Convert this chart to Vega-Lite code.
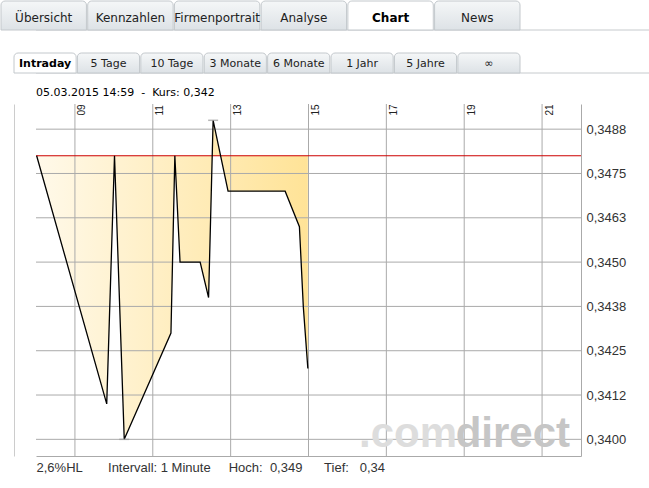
{
  "$schema": "https://vega.github.io/schema/vega-lite/v6.json",
  "background": "white",
  "padding": 0,
  "spacing": 12,
  "config": {"view": {"stroke": null}, "title": {"fontWeight": "normal"}},
  "datasets": {
    "tabs": [
      {"tab": "Übersicht", "active": false},
      {"tab": "Kennzahlen", "active": false},
      {"tab": "Firmenportrait", "active": false},
      {"tab": "Analyse", "active": false},
      {"tab": "Chart", "active": true},
      {"tab": "News", "active": false}
    ],
    "subtabs": [
      {"tab": "Intraday", "active": true},
      {"tab": "5 Tage", "active": false},
      {"tab": "10 Tage", "active": false},
      {"tab": "3 Monate", "active": false},
      {"tab": "6 Monate", "active": false},
      {"tab": "1 Jahr", "active": false},
      {"tab": "5 Jahre", "active": false},
      {"tab": "∞", "active": false}
    ],
    "price": [
      {"t": "2015-03-05T08:01:00Z", "p": 0.348},
      {"t": "2015-03-05T09:49:00Z", "p": 0.341},
      {"t": "2015-03-05T10:01:00Z", "p": 0.348},
      {"t": "2015-03-05T10:16:00Z", "p": 0.340},
      {"t": "2015-03-05T11:28:00Z", "p": 0.343},
      {"t": "2015-03-05T11:34:00Z", "p": 0.348},
      {"t": "2015-03-05T11:42:00Z", "p": 0.345},
      {"t": "2015-03-05T12:13:00Z", "p": 0.345},
      {"t": "2015-03-05T12:26:00Z", "p": 0.344},
      {"t": "2015-03-05T12:33:00Z", "p": 0.349},
      {"t": "2015-03-05T12:56:00Z", "p": 0.347},
      {"t": "2015-03-05T14:24:00Z", "p": 0.347},
      {"t": "2015-03-05T14:46:00Z", "p": 0.346},
      {"t": "2015-03-05T14:52:00Z", "p": 0.34374},
      {"t": "2015-03-05T14:59:00Z", "p": 0.342}
    ],
    "levels": [
      {"p": 0.34}, {"p": 0.34125}, {"p": 0.3425}, {"p": 0.34375},
      {"p": 0.345}, {"p": 0.34625}, {"p": 0.3475}, {"p": 0.34875}
    ],
    "hours": [
      {"t": "2015-03-05T09:00:00Z"}, {"t": "2015-03-05T11:00:00Z"},
      {"t": "2015-03-05T13:00:00Z"}, {"t": "2015-03-05T15:00:00Z"},
      {"t": "2015-03-05T17:00:00Z"}, {"t": "2015-03-05T19:00:00Z"},
      {"t": "2015-03-05T21:00:00Z"}
    ],
    "extremes": [
      {"t": "2015-03-05T10:16:00Z", "p": 0.340},
      {"t": "2015-03-05T12:33:00Z", "p": 0.349}
    ],
    "brand": [{"part": ".com"}, {"part": "direct"}],
    "one": [{"ref": "Vortag"}]
  },
  "vconcat": [
    {
      "width": 614,
      "height": 29,
      "data": {"name": "tabs"},
      "layer": [
        {
          "data": {"name": "one"},
          "mark": {"type": "rule", "color": "#c6cacd"},
          "encoding": {"y": {"value": "height"}}
        },
        {
          "transform": [{"filter": "!datum.active"}],
          "mark": {"type": "bar", "fill": {"gradient": "linear", "x1": 0, "y1": 0, "x2": 0, "y2": 1, "stops": [{"offset": 0, "color": "#f5f7f8"}, {"offset": 1, "color": "#dde2e6"}]}, "stroke": "#c3c8cc", "strokeWidth": 1, "cornerRadiusTopLeft": 4, "cornerRadiusTopRight": 4},
          "encoding": {"x": {"field": "tab", "type": "nominal", "scale": {"domain": ["Übersicht", "Kennzahlen", "Firmenportrait", "Analyse", "Chart", "News"], "range": [-35, 484], "paddingInner": 0.015, "paddingOuter": 0}, "axis": null}}
        },
        {
          "transform": [{"filter": "datum.active"}],
          "mark": {"type": "bar", "fill": "white", "stroke": "#c3c8cc", "strokeWidth": 1, "cornerRadiusTopLeft": 4, "cornerRadiusTopRight": 4},
          "encoding": {"x": {"field": "tab", "type": "nominal", "scale": {"domain": ["Übersicht", "Kennzahlen", "Firmenportrait", "Analyse", "Chart", "News"], "range": [-35, 484], "paddingInner": 0.015, "paddingOuter": 0}, "axis": null}}
        },
        {
          "transform": [{"filter": "!datum.active"}],
          "mark": {"type": "text", "font": "DejaVu Sans", "fontSize": 12, "color": "#222222", "dy": 2},
          "encoding": {"x": {"field": "tab", "type": "nominal", "scale": {"domain": ["Übersicht", "Kennzahlen", "Firmenportrait", "Analyse", "Chart", "News"], "range": [-35, 484], "paddingInner": 0.015, "paddingOuter": 0}, "axis": null}, "text": {"field": "tab"}}
        },
        {
          "transform": [{"filter": "datum.active"}],
          "mark": {"type": "text", "font": "DejaVu Sans", "fontSize": 12, "fontWeight": "bold", "color": "#000000", "dy": 2},
          "encoding": {"x": {"field": "tab", "type": "nominal", "scale": {"domain": ["Übersicht", "Kennzahlen", "Firmenportrait", "Analyse", "Chart", "News"], "range": [-35, 484], "paddingInner": 0.015, "paddingOuter": 0}, "axis": null}, "text": {"field": "tab"}}
        }
      ]
    },
    {
      "width": 614,
      "height": 20,
      "data": {"name": "subtabs"},
      "layer": [
        {
          "data": {"name": "one"},
          "mark": {"type": "rule", "color": "#c6cacd"},
          "encoding": {"y": {"value": "height"}}
        },
        {
          "transform": [{"filter": "!datum.active"}],
          "mark": {"type": "bar", "fill": {"gradient": "linear", "x1": 0, "y1": 0, "x2": 0, "y2": 1, "stops": [{"offset": 0, "color": "#f5f7f8"}, {"offset": 1, "color": "#dde2e6"}]}, "stroke": "#c3c8cc", "strokeWidth": 1, "cornerRadiusTopLeft": 4, "cornerRadiusTopRight": 4},
          "encoding": {"x": {"field": "tab", "type": "nominal", "scale": {"domain": ["Intraday", "5 Tage", "10 Tage", "3 Monate", "6 Monate", "1 Jahr", "5 Jahre", "∞"], "range": [-22, 484], "paddingInner": 0.02, "paddingOuter": 0}, "axis": {"orient": "top", "labels": false, "ticks": false, "domain": false, "grid": false, "title": null, "minExtent": 10, "maxExtent": 10}}}
        },
        {
          "transform": [{"filter": "datum.active"}],
          "mark": {"type": "bar", "fill": "white", "stroke": "#c3c8cc", "strokeWidth": 1, "cornerRadiusTopLeft": 4, "cornerRadiusTopRight": 4},
          "encoding": {"x": {"field": "tab", "type": "nominal", "scale": {"domain": ["Intraday", "5 Tage", "10 Tage", "3 Monate", "6 Monate", "1 Jahr", "5 Jahre", "∞"], "range": [-22, 484], "paddingInner": 0.02, "paddingOuter": 0}, "axis": {"orient": "top", "labels": false, "ticks": false, "domain": false, "grid": false, "title": null, "minExtent": 10, "maxExtent": 10}}}
        },
        {
          "transform": [{"filter": "!datum.active"}],
          "mark": {"type": "text", "font": "DejaVu Sans", "fontSize": 11, "color": "#222222", "dy": 1},
          "encoding": {"x": {"field": "tab", "type": "nominal", "scale": {"domain": ["Intraday", "5 Tage", "10 Tage", "3 Monate", "6 Monate", "1 Jahr", "5 Jahre", "∞"], "range": [-22, 484], "paddingInner": 0.02, "paddingOuter": 0}, "axis": {"orient": "top", "labels": false, "ticks": false, "domain": false, "grid": false, "title": null, "minExtent": 10, "maxExtent": 10}}, "text": {"field": "tab"}}
        },
        {
          "transform": [{"filter": "datum.active"}],
          "mark": {"type": "text", "font": "DejaVu Sans", "fontSize": 11, "fontWeight": "bold", "color": "#000000", "dy": 1},
          "encoding": {"x": {"field": "tab", "type": "nominal", "scale": {"domain": ["Intraday", "5 Tage", "10 Tage", "3 Monate", "6 Monate", "1 Jahr", "5 Jahre", "∞"], "range": [-22, 484], "paddingInner": 0.02, "paddingOuter": 0}, "axis": {"orient": "top", "labels": false, "ticks": false, "domain": false, "grid": false, "title": null, "minExtent": 10, "maxExtent": 10}}, "text": {"field": "tab"}}
        }
      ]
    },
    {
      "width": 545,
      "height": 352,
      "title": {"text": "05.03.2015 14:59\u00a0\u00a0-\u00a0\u00a0Kurs: 0,342", "anchor": "start", "frame": "group", "font": "DejaVu Sans", "fontSize": 11, "fontWeight": "normal", "color": "#000000", "offset": 6},
      "resolve": {"axis": {"x": "independent", "y": "independent"}},
      "layer": [
        {
          "data": {"name": "price"},
          "mark": {"type": "area", "fill": {"gradient": "linear", "x1": 0, "y1": 0, "x2": 1, "y2": 0, "stops": [{"offset": 0, "color": "#fff9ea"}, {"offset": 1, "color": "#ffe397"}]}},
          "encoding": {
            "x": {"field": "t", "type": "temporal", "scale": {"type": "utc", "domain": [{"year": 2015, "month": 3, "date": 5, "hours": 8, "utc": true}, {"year": 2015, "month": 3, "date": 5, "hours": 22, "utc": true}]},
              "axis": {"orient": "top", "values": [
                {"year": 2015, "month": 3, "date": 5, "hours": 9, "utc": true},
                {"year": 2015, "month": 3, "date": 5, "hours": 11, "utc": true},
                {"year": 2015, "month": 3, "date": 5, "hours": 13, "utc": true},
                {"year": 2015, "month": 3, "date": 5, "hours": 15, "utc": true},
                {"year": 2015, "month": 3, "date": 5, "hours": 17, "utc": true},
                {"year": 2015, "month": 3, "date": 5, "hours": 19, "utc": true},
                {"year": 2015, "month": 3, "date": 5, "hours": 21, "utc": true}],
                "labelExpr": "utcFormat(datum.value, '%H')", "labelAngle": -90, "labelAlign": "left", "labelBaseline": "top", "labelPadding": -11, "labelOffset": 2, "tickSize": 0, "ticks": false, "domain": false, "grid": false, "title": null, "labelFont": "Liberation Sans", "labelFontSize": 10, "labelColor": "#222222", "labelFlush": false, "labelOverlap": false, "labelBound": false}},
            "y": {"field": "p", "type": "quantitative", "scale": {"domain": [0.33953, 0.34946], "zero": false, "nice": false},
              "axis": {"orient": "right", "values": [0.34, 0.34125, 0.3425, 0.34375, 0.345, 0.34625, 0.3475, 0.34875], "format": ".4f", "labelExpr": "replace(datum.label, '.', ',')", "ticks": false, "grid": false, "domain": true, "domainColor": "#aaaaaa", "domainWidth": 1, "labelPadding": 5, "labelFont": "Liberation Sans", "labelFontSize": 13, "labelColor": "#333333", "labelFlush": false, "labelOverlap": false, "labelBound": false, "title": null}},
            "y2": {"datum": 0.348}
          }
        },
        {
          "data": {"name": "levels"},
          "mark": {"type": "rule", "color": "#aaaaaa", "strokeWidth": 1},
          "encoding": {"y": {"field": "p", "type": "quantitative", "scale": {"domain": [0.33953, 0.34946], "zero": false, "nice": false}, "axis": null}}
        },
        {
          "data": {"name": "hours"},
          "mark": {"type": "rule", "color": "#aaaaaa", "strokeWidth": 1},
          "encoding": {"x": {"field": "t", "type": "temporal", "scale": {"type": "utc", "domain": [{"year": 2015, "month": 3, "date": 5, "hours": 8, "utc": true}, {"year": 2015, "month": 3, "date": 5, "hours": 22, "utc": true}]}, "axis": null}}
        },
        {
          "data": {"name": "brand"},
          "transform": [{"filter": "datum.part === 'direct'"}],
          "mark": {"type": "text", "align": "right", "baseline": "alphabetic", "dx": -11, "dy": -9, "font": "Liberation Sans", "fontWeight": "bold", "fontSize": 42, "color": "#c6c6c6"},
          "encoding": {"x": {"value": "width"}, "y": {"value": "height"}, "text": {"field": "part"}}
        },
        {
          "data": {"name": "brand"},
          "transform": [{"filter": "datum.part === '.com'"}],
          "mark": {"type": "text", "align": "right", "baseline": "alphabetic", "dx": -124, "dy": -9, "font": "Liberation Sans", "fontWeight": "bold", "fontSize": 42, "color": "#dddddd"},
          "encoding": {"x": {"value": "width"}, "y": {"value": "height"}, "text": {"field": "part"}}
        },
        {
          "data": {"name": "one"},
          "mark": {"type": "rule", "color": "#cc0000", "strokeWidth": 1},
          "encoding": {"y": {"datum": 0.348, "type": "quantitative", "scale": {"domain": [0.33953, 0.34946], "zero": false, "nice": false}, "axis": null}}
        },
        {
          "data": {"name": "price"},
          "mark": {"type": "line", "color": "#000000", "strokeWidth": 1.3},
          "encoding": {
            "x": {"field": "t", "type": "temporal", "scale": {"type": "utc", "domain": [{"year": 2015, "month": 3, "date": 5, "hours": 8, "utc": true}, {"year": 2015, "month": 3, "date": 5, "hours": 22, "utc": true}]},
              "axis": {"orient": "bottom", "labels": false, "ticks": false, "grid": false, "domain": true, "domainColor": "#aaaaaa", "title": "2,6%HL\u00a0\u00a0\u00a0\u00a0\u00a0\u00a0\u00a0Intervall: 1 Minute\u00a0\u00a0\u00a0\u00a0\u00a0Hoch:\u00a0\u00a00,349\u00a0\u00a0\u00a0\u00a0\u00a0\u00a0Tief:\u00a0\u00a0\u00a00,34", "titleFont": "Liberation Sans", "titleFontSize": 13, "titleFontWeight": "normal", "titleColor": "#333333", "titleAnchor": "start", "titleAlign": "left", "titleBaseline": "top", "titlePadding": 5}},
            "y": {"field": "p", "type": "quantitative", "scale": {"domain": [0.33953, 0.34946], "zero": false, "nice": false},
              "axis": {"orient": "left", "labels": false, "ticks": false, "grid": false, "domain": true, "domainColor": "#cccccc", "offset": 22, "minExtent": 0, "maxExtent": 0, "title": null}}
          }
        },
        {
          "data": {"name": "extremes"},
          "mark": {"type": "tick", "orient": "horizontal", "size": 10, "thickness": 1.5, "color": "#999999"},
          "encoding": {
            "x": {"field": "t", "type": "temporal", "scale": {"type": "utc", "domain": [{"year": 2015, "month": 3, "date": 5, "hours": 8, "utc": true}, {"year": 2015, "month": 3, "date": 5, "hours": 22, "utc": true}]}, "axis": null},
            "y": {"field": "p", "type": "quantitative", "scale": {"domain": [0.33953, 0.34946], "zero": false, "nice": false}, "axis": null}
          }
        }
      ]
    }
  ]
}
